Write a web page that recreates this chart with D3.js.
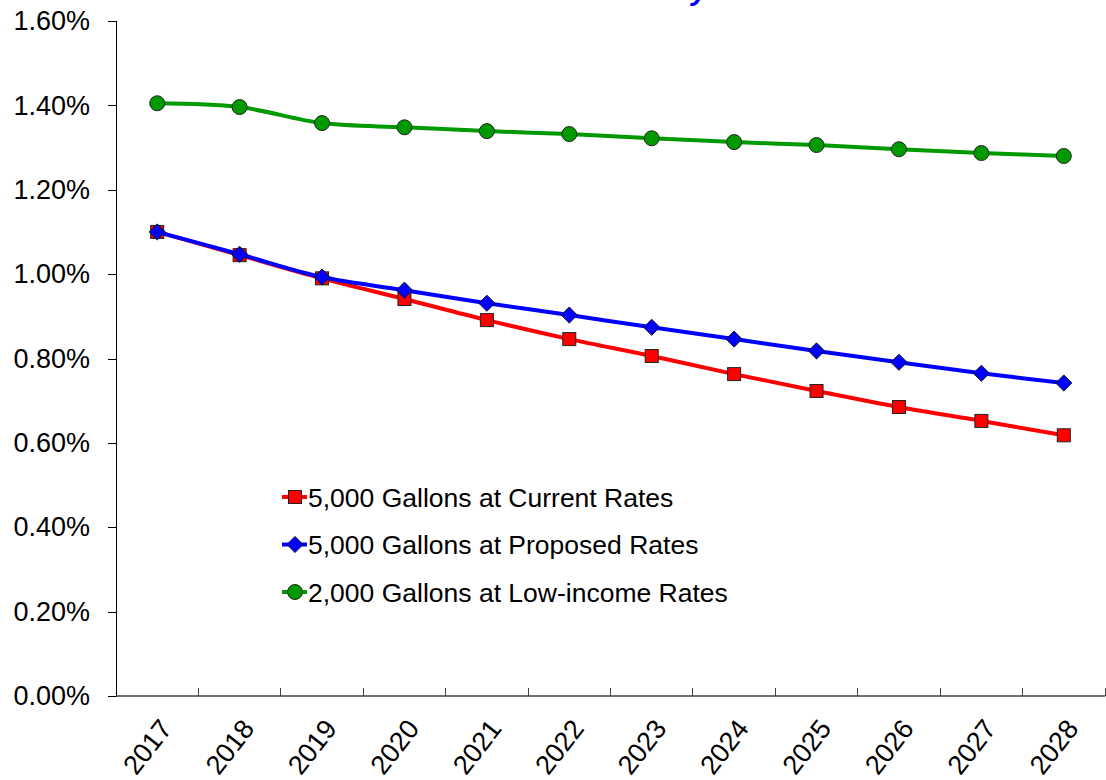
<!DOCTYPE html>
<html>
<head>
<meta charset="utf-8">
<script src="https://cdn.jsdelivr.net/npm/d3@7"></script>
<style>
  body { margin: 0; background: #fff; }
  svg { display: block; font-family: Arial, 'Liberation Sans', sans-serif; }
</style>
</head>
<body>
<div id="chart"></div>
<script>
// data
const years = ['2017', '2018', '2019', '2020', '2021', '2022', '2023', '2024', '2025', '2026', '2027', '2028'];
const currentRates = [1.100, 1.045, 0.990, 0.941, 0.891, 0.846, 0.806, 0.763, 0.723, 0.685, 0.652, 0.618];
const proposedRates = [1.100, 1.047, 0.993, 0.962, 0.931, 0.903, 0.874, 0.846, 0.818, 0.791, 0.765, 0.742];
const lowIncomeRates = [1.405, 1.396, 1.358, 1.348, 1.339, 1.332, 1.322, 1.313, 1.306, 1.296, 1.287, 1.280];
const yTicks = [0, 0.2, 0.4, 0.6, 0.8, 1.0, 1.2, 1.4, 1.6];
const titleText = 'Chart 5: Affordability';

const series = [
  { name: '5,000 Gallons at Current Rates', values: currentRates, color: '#ff0000', marker: 'square' },
  { name: '5,000 Gallons at Proposed Rates', values: proposedRates, color: '#0000ff', marker: 'diamond' },
  { name: '2,000 Gallons at Low-income Rates', values: lowIncomeRates, color: '#009900', marker: 'circle' },
];

const W = 1106, H = 780;
const margin = { top: 21, right: 1, bottom: 84, left: 116 };
const width = W - margin.left - margin.right;
const height = H - margin.top - margin.bottom;

const svg = d3.select('#chart')
  .append('svg')
  .attr('width', W)
  .attr('height', H);

// title, mostly cut off above the top edge as in the source
svg.append('text')
  .attr('x', 708)
  .attr('y', 0)
  .attr('text-anchor', 'end')
  .attr('font-size', 30)
  .attr('font-weight', 'bold')
  .attr('font-style', 'italic')
  .attr('fill', '#0000ff')
  .text(titleText);

const g = svg.append('g')
  .attr('transform', `translate(${margin.left},${margin.top})`);

const x = d3.scaleBand()
  .domain(years)
  .range([0, width]);

const y = d3.scaleLinear()
  .domain([0, 1.6])
  .range([height, 0]);

// Y axis
const yAxis = g.append('g')
  .call(d3.axisLeft(y).tickValues(yTicks).tickSize(8).tickPadding(18)
    .tickFormat((d) => `${d.toFixed(2)}%`));
yAxis.select('.domain').attr('stroke', '#000').attr('shape-rendering', 'crispEdges');
yAxis.selectAll('.tick line').attr('stroke', '#000').attr('shape-rendering', 'crispEdges');
yAxis.selectAll('text')
  .attr('font-size', 27)
  .attr('fill', '#000')
  .attr('font-family', 'Arial, Liberation Sans, sans-serif');

// X axis (ticks between categories, pointing up)
const xAxis = g.append('g')
  .attr('transform', `translate(0,${height})`);
xAxis.append('line')
  .attr('x1', 0)
  .attr('x2', width)
  .attr('stroke', '#404040')
  .attr('stroke-width', 1.5);
xAxis.selectAll('.sep')
  .data(years.concat(['end']))
  .enter()
  .append('line')
  .attr('class', 'sep')
  .attr('x1', (d, i) => (i === 0 ? 0 : x.step() * i))
  .attr('x2', (d, i) => (i === 0 ? 0 : x.step() * i))
  .attr('y1', 0)
  .attr('y2', (d, i) => (i === 0 ? 0 : -8))
  .attr('stroke', '#404040')
  .attr('shape-rendering', 'crispEdges');
xAxis.selectAll('.lbl')
  .data(years)
  .enter()
  .append('text')
  .attr('class', 'lbl')
  .attr('transform', (d) => `translate(${x(d) + x.bandwidth() / 2 + 16},${33}) rotate(-52)`)
  .attr('text-anchor', 'end')
  .attr('font-size', 27)
  .attr('fill', '#000')
  .text((d) => d);

const cx = (i) => x(years[i]) + x.bandwidth() / 2;

const line = d3.line()
  .x((d, i) => cx(i))
  .y((d) => y(d))
  .curve(d3.curveCardinal.tension(0));

function drawMarker(sel, type, color, size) {
  if (type === 'square') {
    sel.append('rect')
      .attr('x', -size / 2).attr('y', -size / 2)
      .attr('width', size).attr('height', size)
      .attr('fill', color).attr('stroke', '#222').attr('stroke-width', 1);
  } else if (type === 'diamond') {
    const r = size * 0.62;
    sel.append('path')
      .attr('d', `M0,${-r}L${r},0L0,${r}L${-r},0Z`)
      .attr('fill', color).attr('stroke', '#111').attr('stroke-width', 1);
  } else {
    sel.append('circle')
      .attr('r', size / 2 + 1)
      .attr('fill', color).attr('stroke', '#222').attr('stroke-width', 1);
  }
}

series.forEach((s) => {
  g.append('path')
    .datum(s.values)
    .attr('d', line)
    .attr('fill', 'none')
    .attr('stroke', s.color)
    .attr('stroke-width', 4);

  g.selectAll(null)
    .data(s.values)
    .enter()
    .append('g')
    .attr('transform', (d, i) => `translate(${cx(i)},${y(d)})`)
    .each(function () { drawMarker(d3.select(this), s.marker, s.color, 13); });
});

// legend
const legend = svg.append('g')
  .attr('transform', 'translate(282,497)');
series.forEach((s, i) => {
  const row = legend.append('g').attr('transform', `translate(0,${i * 47.5})`);
  row.append('line')
    .attr('x1', 0).attr('x2', 25)
    .attr('stroke', s.color).attr('stroke-width', 4);
  const m = row.append('g').attr('transform', 'translate(13,0)');
  drawMarker(m, s.marker, s.color, 13);
  row.append('text')
    .attr('x', 26)
    .attr('y', 0)
    .attr('dy', '0.36em')
    .attr('font-size', 26.5)
    .attr('fill', '#000')
    .text(s.name);
});
</script>
</body>
</html>
